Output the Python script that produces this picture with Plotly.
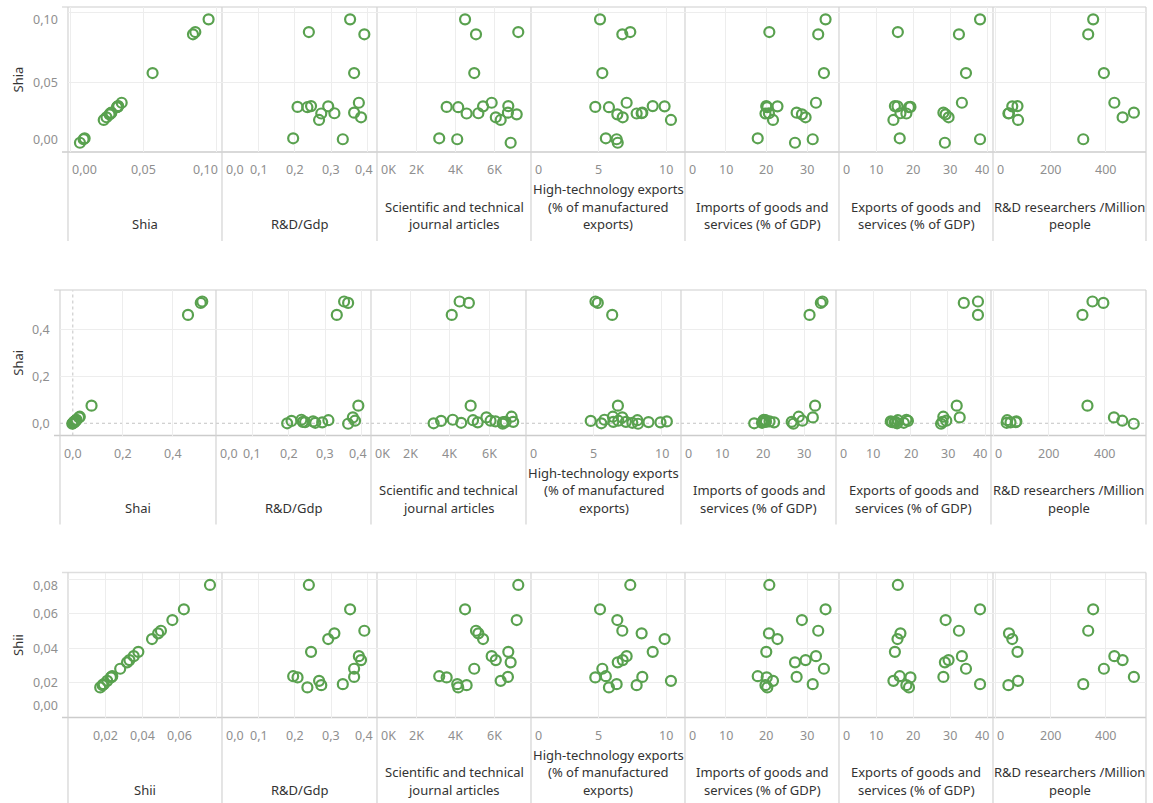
import plotly.graph_objects as go

W, H = 1153, 803

# ---- data: one entry per observation (None = not reported) ----
shia = [0.0857, 0.0948, 0.0841, 0.0564, 0.0281, 0.0322, 0.0098, 0.0326, 0.0277,
        0.0275, 0.0229, 0.0352, 0.0248, 0.0091, 0.0320, 0.0328, 0.0066, 0.0269]
shai = [0.006, 0.518, 0.075, 0.512, -0.002, 0.010, 0.000, 0.004, 0.013,
        0.002, 0.008, 0.025, 0.011, 0.461, 0.015, 0.005, 0.006, 0.028]
shii = [0.0767, 0.0626, 0.0502, 0.0282, 0.0235, 0.0232, 0.0239, 0.0454, 0.0487,
        0.0187, 0.0212, 0.0355, 0.0332, 0.0193, 0.0174, 0.0380, 0.0319, 0.0564]
rd_gdp = [0.238, 0.351, 0.390, 0.362, 0.362, 0.207, 0.195, 0.291, 0.308,
          0.272, 0.266, 0.375, 0.381, 0.331, 0.234, 0.244, None, None]
journal_articles = [7220, 4500, 5060, 4970, 6690, 3560, 3180, 5420, 5180,
                    4580, 6320, 5860, 6070, 4100, 4150, 6710, 6830, 7140]
hightech_exports = [7.35, 5.11, 6.76, 5.28, 8.24, 4.76, 5.54, 9.89, 8.19,
                    7.82, 10.36, 7.08, 6.79, 6.34, 5.77, 9.01, 6.42, 6.39]
imports_gdp = [20.7, 34.5, 32.7, 34.1, 27.4, 20.05, 17.85, 22.7, 20.6,
               19.75, 21.6, 32.15, 29.6, 31.35, 20.2, 19.95, 27.0, 28.7]
exports_gdp = [15.9, 38.1, 32.4, 34.3, 28.2, 19.3, 16.4, 15.8, 16.6,
               18.2, 14.7, 33.2, 29.6, 38.1, 18.9, 15.1, 28.6, 28.8]
researchers = [None, 356, 338, 395, 504, None, None, 62, 50,
               48, 83, 433, 463, 320, None, 81, None, None]

row_names = ["Shia", "Shai", "Shii"]
row_values = [shia, shai, shii]
col_titles = [
    None,
    ["R&D/Gdp"],
    ["Scientific and technical", "journal articles"],
    ["High-technology exports", "(% of manufactured", "exports)"],
    ["Imports of goods and", "services (% of GDP)"],
    ["Exports of goods and", "services (% of GDP)"],
    ["R&D researchers /Million", "people"],
]
col_values = [None, rd_gdp, journal_articles, hightech_exports,
              imports_gdp, exports_gdp, researchers]

# ---- axis scales ----
def dec(v, d):
    return f"{v:.{d}f}".replace(".", ",")

row_y_range = [[0, 0.1036], [-0.052, 0.567], [0, 0.0839]]
row_x_range = [[-0.0016, 0.104], [-0.0512, 0.573], [0, 0.0832]]
row_x_grid = [[0, 0.05, 0.10], [0.2, 0.4], [0.02, 0.04, 0.06, 0.08]]
row_y_grid = [[0.05, 0.10], [0.2, 0.4], [0.02, 0.04, 0.06, 0.08]]
row_y_labels = [[(v, dec(v, 2)) for v in (0, 0.05, 0.10)],
                [(v, dec(v, 1)) for v in (0, 0.2, 0.4)],
                [(v, dec(v, 2)) for v in (0, 0.02, 0.04, 0.06, 0.08)]]
row_x_labels = [[(v, dec(v, 2)) for v in (0, 0.05, 0.10)],
                [(v, dec(v, 1)) for v in (0, 0.2, 0.4)],
                [(v, dec(v, 2)) for v in (0.02, 0.04, 0.06)]]

col_range = [None, [0, 0.4247], [0, 7870], [0, 11.4], [0, 37.8], [0, 41.6], [-8, 548]]
col_ticks = [
    None,
    [(v, dec(v, 1)) for v in (0, 0.1, 0.2, 0.3, 0.4)],
    [(v, f"{v // 1000}K") for v in (0, 2000, 4000, 6000)],
    [(v, str(v)) for v in (0, 5, 10)],
    [(v, str(v)) for v in (0, 10, 20, 30)],
    [(v, str(v)) for v in (0, 10, 20, 30, 40)],
    [(v, str(v)) for v in (0, 200, 400)],
]

# ---- pane geometry (pixels) ----
ROW_TOP = [7, 290, 572.5]
ROW_BOTTOM = [152, 435.5, 717.5]
COL_EDGES = [
    [68, 222, 377, 531, 685, 839, 993, 1146],
    [60, 216, 371, 526, 681, 836, 991, 1146],
    [68, 222, 377, 531, 685, 839, 993, 1146],
]
TITLE_DEPTH = 89

GREEN = "#59A14F"
GRID = "#ededed"
BORDER = "#d3d3d3"
TICK_COLOR = "#8f8f8f"
TITLE_COLOR = "#333333"
FONT = "Noto Sans"
TICK_SIZE = 12.5
TITLE_SIZE = 13
PAD = 2


def text_w(s):
    k = TICK_SIZE / 12
    w = 0.0
    for ch in s:
        if ch.isdigit():
            w += 6.9
        elif ch in ",.":
            w += 3.2
        elif ch == "K":
            w += 7.3
        else:
            w += 6.5
    return w * k


fig = go.Figure()
layout = {}
annotations = []
shapes = []


def px_x(v, rng, left, right):
    return left + (v - rng[0]) / (rng[1] - rng[0]) * (right - left)


def px_y(v, rng, top, bottom):
    return bottom - (v - rng[0]) / (rng[1] - rng[0]) * (bottom - top)


for r in range(3):
    top, bottom = ROW_TOP[r], ROW_BOTTOM[r]
    edges = COL_EDGES[r]
    yr = row_y_range[r]
    for c in range(7):
        n = r * 7 + c + 1
        left, right = edges[c], edges[c + 1]
        if c == 0:
            xr = row_x_range[r]
            xgrid = row_x_grid[r]
            xlabels = row_x_labels[r]
            xs = row_values[r]
        else:
            xr = col_range[c]
            xgrid = [v for v, _ in col_ticks[c]]
            xlabels = col_ticks[c]
            xs = col_values[c]

        sfx = "" if n == 1 else str(n)
        layout[f"xaxis{sfx}"] = dict(
            domain=[left / W, right / W], range=xr, anchor=f"y{sfx}",
            tickvals=xgrid, showticklabels=False, ticks="", showgrid=True,
            gridcolor=GRID, gridwidth=1, zeroline=False, showline=False,
            fixedrange=True)
        layout[f"yaxis{sfx}"] = dict(
            domain=[1 - bottom / H, 1 - top / H], range=yr, anchor=f"x{sfx}",
            tickvals=row_y_grid[r], showticklabels=False, ticks="",
            showgrid=True, gridcolor=GRID, gridwidth=1, zeroline=False,
            showline=False, fixedrange=True)

        fig.add_trace(go.Scatter(
            x=xs, y=row_values[r], mode="markers",
            xaxis=f"x{sfx}", yaxis=f"y{sfx}", cliponaxis=False,
            hoverinfo="skip", showlegend=False,
            marker=dict(symbol="circle-open", size=10, color=GREEN,
                        line=dict(width=2.2, color=GREEN))))

        # x tick labels, kept inside the pane
        ty = bottom + 18
        for v, t in xlabels:
            p = px_x(v, xr, left, right)
            w = text_w(t)
            base = dict(text=t, showarrow=False, yref="paper", y=1 - ty / H,
                        yanchor="middle",
                        font=dict(family=FONT, size=TICK_SIZE, color=TICK_COLOR))
            if p - w / 2 < left + PAD:
                base.update(xref="paper", x=(left + PAD) / W, xanchor="left")
            elif p + w / 2 > right - PAD:
                base.update(xref="paper", x=(right - PAD) / W, xanchor="right")
            else:
                base.update(xref=f"x{sfx}", x=v, xanchor="center")
            annotations.append(base)

        # axis titles under each pane
        lines = [row_names[r]] if c == 0 else col_titles[c]
        for i, line in enumerate(lines):
            ly = bottom + 72 - (len(lines) - 1 - i) * 17.3
            annotations.append(dict(
                text=line, showarrow=False, xref="paper", yref="paper",
                x=(left + right) / 2 / W, y=1 - ly / H, xanchor="center",
                yanchor="middle",
                font=dict(family=FONT, size=TITLE_SIZE, color=TITLE_COLOR)))

        # dashed zero reference lines
        if r == 1:
            shapes.append(dict(type="line", xref=f"x{sfx} domain", x0=0, x1=1,
                               yref=f"y{sfx}", y0=0, y1=0, layer="below",
                               line=dict(color="#c4c4c4", width=1, dash="dot")))
            if c == 0:
                shapes.append(dict(type="line", xref=f"x{sfx}", x0=0, x1=0,
                                   yref=f"y{sfx} domain", y0=0, y1=1,
                                   layer="below",
                                   line=dict(color="#c4c4c4", width=1, dash="dot")))

    # y tick labels for the row
    left0 = edges[0]
    n0 = r * 7 + 1
    sfx0 = "" if n0 == 1 else str(n0)
    for v, t in row_y_labels[r]:
        p = px_y(v, yr, top, bottom)
        h = 14
        base = dict(text=t, showarrow=False, xref="paper",
                    x=(left0 - 8) / W, xanchor="right",
                    font=dict(family=FONT, size=TICK_SIZE, color=TICK_COLOR))
        if p - h / 2 < top + PAD:
            base.update(yref="paper", y=1 - (top + PAD) / H, yanchor="top")
        elif p + h / 2 > bottom - PAD:
            base.update(yref="paper", y=1 - (bottom - PAD) / H, yanchor="bottom")
        else:
            base.update(yref=f"y{sfx0}", y=v, yanchor="middle")
        annotations.append(base)

    # row title (y axis)
    annotations.append(dict(
        text=row_names[r], showarrow=False, xref="paper", yref="paper",
        x=18 / W, y=1 - (top + bottom) / 2 / H, textangle=-90,
        xanchor="center", yanchor="middle",
        font=dict(family=FONT, size=TITLE_SIZE, color=TITLE_COLOR)))

    # pane frame: top edge, bottom axis line, column separators
    shapes.append(dict(type="line", xref="paper", yref="paper",
                       x0=(left0 - 6) / W, x1=edges[-1] / W,
                       y0=1 - top / H, y1=1 - top / H, layer="below",
                       line=dict(color="#dedede", width=1.5)))
    shapes.append(dict(type="line", xref="paper", yref="paper",
                       x0=(left0 - 6) / W, x1=edges[-1] / W,
                       y0=1 - bottom / H, y1=1 - bottom / H, layer="below",
                       line=dict(color="#cccccc", width=1.5)))
    for e in edges:
        shapes.append(dict(type="line", xref="paper", yref="paper",
                           x0=e / W, x1=e / W, y0=1 - top / H,
                           y1=max(0, 1 - (bottom + TITLE_DEPTH) / H),
                           layer="below",
                           line=dict(color=BORDER, width=1.2)))

fig.update_layout(
    width=W, height=H, margin=dict(l=0, r=0, t=0, b=0),
    paper_bgcolor="white", plot_bgcolor="white",
    font=dict(family=FONT, size=12),
    annotations=annotations, shapes=shapes, showlegend=False,
    **layout)

fig.write_html("out.html", config={"displayModeBar": False})
